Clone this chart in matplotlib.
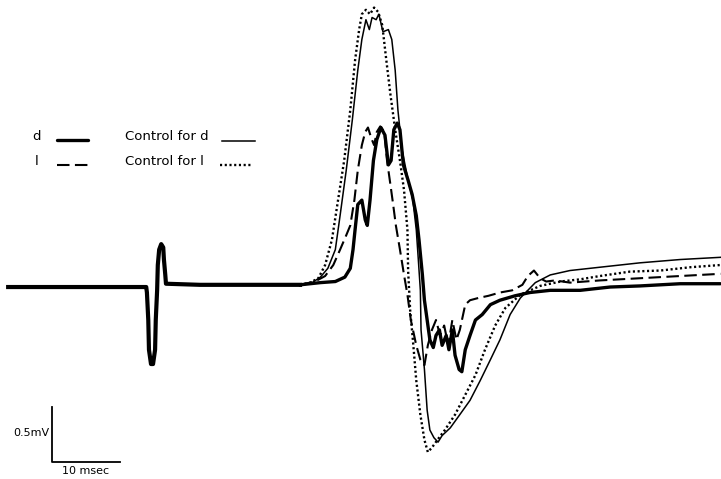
import matplotlib
matplotlib.use("Agg")
import matplotlib.pyplot as plt

# Shared baseline and stimulus artifact (ms, mV)
pre_t = [1.2, 8.8, 14.7, 21.3, 21.5, 21.6, 21.8, 21.9, 22.2, 22.5, 22.8, 22.9, 23.1, 23.2,
         23.4, 23.7, 24.0, 24.1, 24.3, 24.4, 29.4, 36.8, 44.1]
pre_v = [0, 0, 0, 0, 0, -0.05, -0.30, -0.57, -0.70, -0.70, -0.57, -0.30, -0.03, 0.20,
         0.34, 0.39, 0.36, 0.25, 0.11, 0.03, 0.02, 0.02, 0.02]

# d (thick solid)
d_t = [44.1, 47.1, 49.3, 50.7, 51.5, 51.9, 52.2, 52.6, 53.2, 53.7, 54.0, 54.4, 54.9, 55.4,
       56.0, 56.6, 57.1, 57.5, 57.9, 58.4, 58.8, 59.3, 60.0, 60.6, 61.2, 61.6, 62.1, 62.4,
       62.8, 63.2, 63.7, 64.1, 64.6, 65.0, 65.6, 66.0, 66.5, 66.9, 67.5, 67.9, 68.4, 69.1,
       69.9, 70.9, 72.1, 73.5, 75.7, 77.9, 80.9, 85.3, 89.7, 94.1, 100.0, 105.9]
d_v = [0.02, 0.04, 0.05, 0.09, 0.17, 0.34, 0.52, 0.75, 0.79, 0.61, 0.56, 0.79, 1.15, 1.34,
       1.45, 1.38, 1.11, 1.15, 1.43, 1.49, 1.43, 1.11, 0.97, 0.84, 0.65, 0.43, 0.11, -0.12,
       -0.30, -0.48, -0.55, -0.44, -0.39, -0.53, -0.44, -0.57, -0.39, -0.62, -0.75, -0.77, -0.57, -0.44,
       -0.30, -0.25, -0.16, -0.12, -0.08, -0.05, -0.03, -0.03, 0, 0.01, 0.03, 0.03]

# l (dashed)
l_t = [44.1, 46.3, 47.8, 49.0, 50.0, 50.9, 51.5, 52.1, 52.6, 53.2, 53.7, 54.1, 54.6, 55.0,
       55.4, 55.9, 56.5, 56.9, 57.4, 57.8, 58.2, 58.8, 59.4, 59.9, 60.4, 61.2, 61.8, 62.4,
       62.9, 63.5, 64.1, 64.7, 65.3, 65.9, 66.5, 67.1, 67.6, 68.4, 69.1, 70.3, 71.8, 73.5,
       75.3, 76.8, 77.6, 78.5, 79.4, 80.3, 81.6, 83.8, 88.2, 94.1, 100.0, 105.9]
l_v = [0.02, 0.05, 0.10, 0.20, 0.34, 0.47, 0.56, 0.79, 1.06, 1.29, 1.41, 1.45, 1.35, 1.29,
       1.41, 1.46, 1.41, 1.15, 0.93, 0.75, 0.56, 0.34, 0.11, -0.07, -0.30, -0.53, -0.66, -0.71,
       -0.53, -0.39, -0.30, -0.44, -0.35, -0.53, -0.30, -0.48, -0.39, -0.16, -0.12, -0.10, -0.08, -0.05,
       -0.03, 0.02, 0.10, 0.15, 0.08, 0.05, 0.06, 0.04, 0.06, 0.08, 0.10, 0.12]

# Control for d (thin solid)
cd_t = [44.1, 45.9, 47.1, 48.2, 49.3, 50.0, 50.9, 51.8, 52.6, 53.2, 53.8, 54.3, 54.7, 55.3,
        55.7, 56.3, 57.1, 57.6, 58.1, 58.5, 59.1, 60.0, 60.7, 61.2, 61.5, 61.8, 61.9, 62.4,
        62.8, 63.2, 63.8, 64.4, 65.0, 66.2, 67.6, 69.1, 70.6, 72.1, 73.5, 75.0, 76.5, 78.7,
        80.9, 83.8, 88.2, 94.1, 100.0, 105.9]
cd_v = [0.01, 0.04, 0.09, 0.17, 0.34, 0.65, 1.06, 1.52, 1.97, 2.25, 2.43, 2.34, 2.45, 2.43,
        2.48, 2.32, 2.34, 2.25, 1.97, 1.61, 1.25, 0.97, 0.79, 0.52, 0.25, -0.03, -0.39, -0.75,
        -1.12, -1.30, -1.37, -1.41, -1.35, -1.28, -1.16, -1.03, -0.85, -0.66, -0.48, -0.25, -0.10, 0.04,
        0.11, 0.15, 0.18, 0.22, 0.25, 0.27]

# Control for l (dotted)
cl_t = [44.1, 45.6, 46.8, 47.8, 48.8, 49.7, 50.6, 51.5, 52.2, 52.8, 53.2, 53.8, 54.4, 55.0,
        55.6, 56.2, 56.8, 57.4, 58.1, 58.8, 59.4, 59.9, 60.0, 60.3, 60.7, 61.2, 61.8, 62.4,
        62.9, 63.5, 64.3, 65.4, 66.9, 68.4, 69.9, 71.3, 72.8, 74.3, 76.5, 79.4, 82.4, 85.3,
        88.2, 92.6, 97.1, 101.5, 105.9]
cl_v = [0.02, 0.04, 0.08, 0.20, 0.43, 0.79, 1.15, 1.61, 2.06, 2.34, 2.48, 2.52, 2.48, 2.54,
        2.50, 2.38, 2.06, 1.75, 1.43, 1.15, 0.88, 0.52, 0.15, -0.21, -0.48, -0.85, -1.16, -1.39,
        -1.50, -1.46, -1.39, -1.30, -1.16, -0.98, -0.80, -0.57, -0.35, -0.19, -0.07, 0.01, 0.05, 0.07,
        0.10, 0.14, 0.15, 0.18, 0.20]

fig = plt.figure(figsize=(7.21, 4.79), dpi=100)
ax = fig.add_axes([0, 0, 1, 1])
ax.set_xlim(0, 106.0)
ax.set_ylim(-1.745, 2.609)
ax.axis("off")

thick = dict(color="black", lw=2.4, solid_capstyle="round")
thin = dict(color="black", lw=1.1)
dashed = dict(color="black", lw=1.5, linestyle=(0, (6, 2.6)))
dotted = dict(color="black", lw=1.7, linestyle=(0, (0.9, 1.1)))

ax.plot(pre_t, pre_v, color="black", lw=3.0, solid_joinstyle="round")
ax.plot(cl_t, cl_v, **dotted)
ax.plot(cd_t, cd_v, **thin)
ax.plot(l_t, l_v, **dashed)
ax.plot(d_t, d_v, **thick)

# legend drawn by hand, as in the original figure
font = dict(fontsize=9.5, color="black", va="center")
ax.text(5.4, 1.37, "d", ha="center", **font)
ax.plot([8.4, 12.9], [1.34, 1.34], **thick)
ax.text(18.4, 1.37, "Control for d", ha="left", **font)
ax.plot([32.6, 37.5], [1.33, 1.33], **thin)
ax.text(5.4, 1.14, "l", ha="center", **font)
ax.plot([8.4, 13.5], [1.11, 1.11], **dashed)
ax.text(18.4, 1.14, "Control for l", ha="left", **font)
ax.plot([32.4, 37.2], [1.11, 1.11], **dotted)

# scale bar: 10 msec, 0.5 mV
ax.plot([7.65, 7.65, 17.65], [-1.09, -1.59, -1.59], color="black", lw=1.3)
ax.text(7.3, -1.33, "0.5mV", ha="right", va="center", fontsize=8)
ax.text(12.6, -1.675, "10 msec", ha="center", va="center", fontsize=8)

fig.savefig("out.png", dpi=100)
